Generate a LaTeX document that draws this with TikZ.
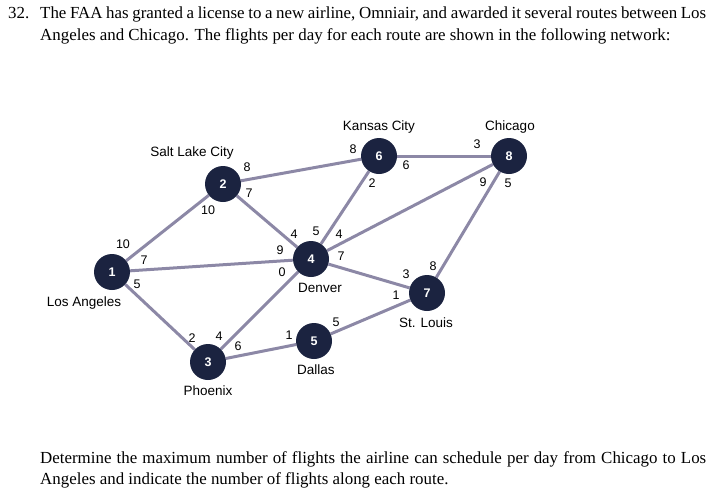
\documentclass[tikz,border=0pt]{standalone}
\usepackage{fontspec}
\setmainfont{Liberation Serif}
\setsansfont{Liberation Sans}
\usetikzlibrary{backgrounds}
\definecolor{nodec}{HTML}{1B2340}
\definecolor{edgec}{HTML}{8C88A6}
\begin{document}
\begin{tikzpicture}[x=1pt,y=-1pt,
  city/.style={circle,fill=nodec,minimum size=36pt,inner sep=0pt,text=white,font=\sffamily\bfseries\fontsize{12.5}{12}\selectfont},
  road/.style={draw=edgec,line width=3pt},
  citylbl/.style={font=\sffamily\fontsize{13.5}{14}\selectfont,inner sep=0pt},
  num/.style={font=\sffamily\fontsize{12.5}{12}\selectfont,inner sep=0pt},
  para/.style={font=\fontsize{16.9}{21.5}\selectfont,inner sep=0pt,anchor=north west,text width=666pt,align=justify}]
\useasboundingbox (0,0) rectangle (723,498);
\node[para,text width=30pt,align=left] (qn) at (8,7) {32.};
\node[para] (q) at (40,7) {The FAA has granted a license to a new airline, Omniair, and awarded it several routes between Los Angeles and Chicago. The flights per day for each route are shown in the following network:};
\node[para] (a) at (40,451) {Determine the maximum number of flights the airline can schedule per day from Chicago to Los Angeles and indicate the number of flights along each route.};
\node[city] (n1) at (112,272) {1};
\node[city] (n2) at (223,184) {2};
\node[city] (n3) at (208,362) {3};
\node[city] (n4) at (311,259) {4};
\node[city] (n5) at (314,341) {5};
\node[city] (n6) at (379,156) {6};
\node[city] (n7) at (427,293) {7};
\node[city] (n8) at (509,156) {8};
\begin{pgfonlayer}{background}
\draw[road] (n1)--(n2); \draw[road] (n1)--(n4); \draw[road] (n1)--(n3);
\draw[road] (n2)--(n4); \draw[road] (n2)--(n6); \draw[road] (n3)--(n4);
\draw[road] (n3)--(n5); \draw[road] (n4)--(n6); \draw[road] (n4)--(n8);
\draw[road] (n4)--(n7); \draw[road] (n5)--(n7); \draw[road] (n6)--(n8);
\draw[road] (n7)--(n8);
\end{pgfonlayer}
\node[citylbl] (c6) at (379,127) {Kansas City};
\node[citylbl] (c8) at (510,127) {Chicago};
\node[citylbl] (c2) at (192,153) {Salt Lake City};
\node[citylbl] (c1) at (84,303) {Los Angeles};
\node[citylbl] (c4) at (320,288) {Denver};
\node[citylbl] (c7) at (426,323) {St. Louis};
\node[citylbl] (c5) at (316,370) {Dallas};
\node[citylbl] (c3) at (208,391) {Phoenix};
\foreach \t/\x/\y [count=\i] in {8/247/167,7/249/193,10/208/210,10/123/244,7/144/260,5/137/284,4/294/234,5/316/231,4/339/234,9/280/250,0/282/272,7/341/256,8/353/149,6/406/165,2/372/183,3/477/144,9/483/182,5/508/183,3/406/274,8/433/266,1/396/295,5/336/322,1/289/335,2/192/338,4/219/336,6/238/346}
  \node[num] (l\i) at (\x,\y) {\t};
\end{tikzpicture}
\end{document}
